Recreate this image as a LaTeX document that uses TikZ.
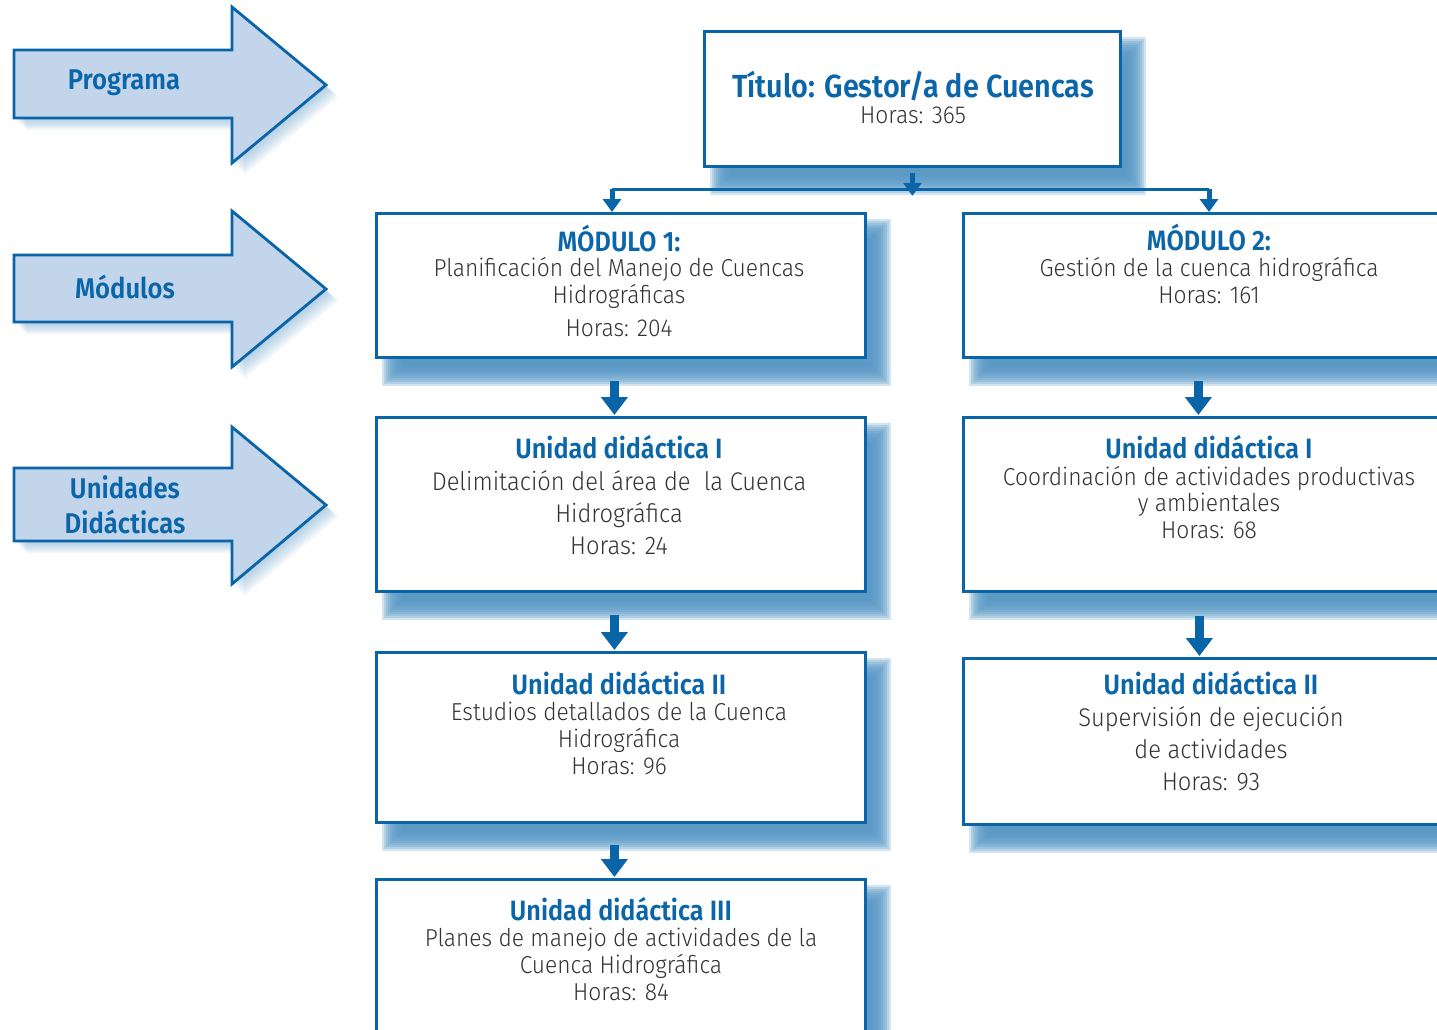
\documentclass[tikz,border=0pt]{standalone}
\usepackage{fontspec}
\setmainfont{Fira Sans Light}[FakeStretch=0.93]
\newfontfamily\hfont{Fira Sans SemiBold}[FakeStretch=0.9]
\usetikzlibrary{arrows.meta,backgrounds}
\definecolor{dblue}{HTML}{0A64A8}
\definecolor{hblue}{HTML}{0B66A9}
\definecolor{lblue}{HTML}{C3D5EA}
\definecolor{sblue}{HTML}{5596C4}
\definecolor{tgray}{HTML}{333333}
\tikzset{
  box/.style={draw=dblue, line width=2.8pt, fill=white, inner sep=0pt, anchor=north west},
  hd/.style={anchor=base, inner sep=0pt, text=hblue, font=\hfont\fontsize{28}{30}\selectfont},
  ttl/.style={anchor=base, inner sep=0pt, text=hblue, font=\hfont\fontsize{32}{34}\selectfont},
  bd/.style={anchor=base, inner sep=0pt, text=tgray, font=\fontsize{24.5}{28}\selectfont},
  bdl/.style={anchor=base, inner sep=0pt, text=tgray, font=\fontsize{25.5}{30}\selectfont},
  lab/.style={inner sep=0pt, text=hblue, align=center, font=\hfont\fontsize{28.5}{35}\selectfont},
  sidearrow/.style={draw=dblue, fill=lblue, line width=2.8pt, line join=miter},
  bigarr/.style={draw=dblue, line width=9pt, -{Triangle[width=26pt,length=18pt]}},
  smallarr/.style={draw=dblue, line width=5pt, -{Triangle[width=18pt,length=13pt]}},
  conn/.style={draw=dblue, line width=3pt}
}
\begin{document}
\begin{tikzpicture}[x=1pt,y=-1pt]
\useasboundingbox (0,0) rectangle (1437,1030);
\clip (0,0) rectangle (1437,1030);

% side arrows with soft shadow
\foreach \ya/\yb/\yc/\yd/\yt in {50/118/7/163/85, 255/322/211/367/289, 468/541/427/584/505}{
  \foreach \s in {2,4,6,8,10,12}{
    \begin{scope}[shift={(\s,\s)}]
      \fill[sblue, fill opacity=0.09] (14,\ya) -- (232,\ya) -- (232,\yc) -- (326,\yt) -- (232,\yd) -- (232,\yb) -- (14,\yb) -- cycle;
    \end{scope}
  }
  \path[sidearrow] (14,\ya) -- (232,\ya) -- (232,\yc) -- (326,\yt) -- (232,\yd) -- (232,\yb) -- (14,\yb) -- cycle;
}
\node[lab] (lprog) at (124,83) {Programa};
\node[lab] (lmod) at (125,287) {Módulos};
\node[lab] (lud) at (125,505) {Unidades\\Didácticas};

% boxes
\node[box, minimum width=416pt, minimum height=135pt] (t) at (703,30) {};
\node[box, minimum width=489pt, minimum height=144pt] (m1) at (375,212) {};
\node[box, minimum width=494pt, minimum height=144pt] (m2) at (962,212) {};
\node[box, minimum width=489pt, minimum height=174pt] (u1l) at (375,416) {};
\node[box, minimum width=494pt, minimum height=174pt] (u1r) at (962,416) {};
\node[box, minimum width=489pt, minimum height=170pt] (u2l) at (375,651) {};
\node[box, minimum width=494pt, minimum height=166pt] (u2r) at (962,657) {};
\node[box, minimum width=489pt, minimum height=180pt] (u3) at (375,878) {};

% shadows
\begin{scope}[on background layer]
\foreach \n in {t,m1,m2,u1l,u1r,u2l,u2r,u3}{
  \foreach \rr in {-10,-8,...,10}{
    \fill[sblue, fill opacity=0.26] ([shift={(17-\rr,17-\rr)}]\n.north west) rectangle ([shift={(14+\rr,17+\rr)}]\n.south east);
  }
}
\end{scope}

% texts
\node[ttl] (th) at (913,98) {Título: Gestor/a de Cuencas};
\node[bd] (tb) at (913,124) {Horas: 365};

\node[hd] (m1h) at (619,251) {MÓDULO 1:};
\node[bd] (m1a) at (619,276) {Planificación del Manejo de Cuencas};
\node[bd] (m1b) at (619,303) {Hidrográficas};
\node[bd] (m1c) at (619,336) {Horas: 204};

\node[hd] (m2h) at (1209,250) {MÓDULO 2:};
\node[bd] (m2a) at (1209,276) {Gestión de la cuenca hidrográfica};
\node[bd] (m2b) at (1209,303) {Horas: 161};

\node[hd] (u1lh) at (619,458) {Unidad didáctica I};
\node[bdl] (u1la) at (619,490) {Delimitación del área de~ la Cuenca};
\node[bdl] (u1lb) at (619,522) {Hidrográfica};
\node[bdl] (u1lc) at (619,554) {Horas: 24};

\node[hd] (u1rh) at (1209,458) {Unidad didáctica I};
\node[bd] (u1ra) at (1209,485) {Coordinación de actividades productivas};
\node[bd] (u1rb) at (1209,511) {y ambientales};
\node[bd] (u1rc) at (1209,538) {Horas: 68};

\node[hd] (u2lh) at (619,694) {Unidad didáctica II};
\node[bd] (u2la) at (619,720) {Estudios detallados de la Cuenca};
\node[bd] (u2lb) at (619,747) {Hidrográfica};
\node[bd] (u2lc) at (619,774) {Horas: 96};

\node[hd] (u2rh) at (1211,694) {Unidad didáctica II};
\node[bdl] (u2ra) at (1211,726) {Supervisión de ejecución};
\node[bdl] (u2rb) at (1211,758) {de actividades};
\node[bdl] (u2rc) at (1211,790) {Horas: 93};

\node[hd] (u3h) at (621,920) {Unidad didáctica III};
\node[bd] (u3a) at (621,946) {Planes de manejo de actividades de la};
\node[bd] (u3b) at (621,973) {Cuenca Hidrográfica};
\node[bd] (u3c) at (621,1000) {Horas: 84};

% connectors
\coordinate (jl) at (612,189);
\coordinate (jr) at (1209,189);
\draw[smallarr] ([yshift=-5pt]t.south) -- ([yshift=-28pt]t.south);
\draw[conn] (jl) -- (jr);
\draw[smallarr] (jl) -- (jl |- m1.north);
\draw[smallarr] (jr) -- (jr |- m2.north);

\draw[bigarr] ([shift={(-6.5,22)}]m1.south) -- ([shift={(-6.5,-1)}]u1l.north);
\draw[bigarr] ([shift={(-6.5,22)}]u1l.south) -- ([shift={(-6.5,-1)}]u2l.north);
\draw[bigarr] ([shift={(-6.5,21)}]u2l.south) -- ([shift={(-6.5,-1)}]u3.north);
\draw[bigarr] ([shift={(-12,22)}]m2.south) -- ([shift={(-12,-1)}]u1r.north);
\draw[bigarr] ([shift={(-11,23)}]u1r.south) -- ([shift={(-11,-1)}]u2r.north);
\end{tikzpicture}
\end{document}
